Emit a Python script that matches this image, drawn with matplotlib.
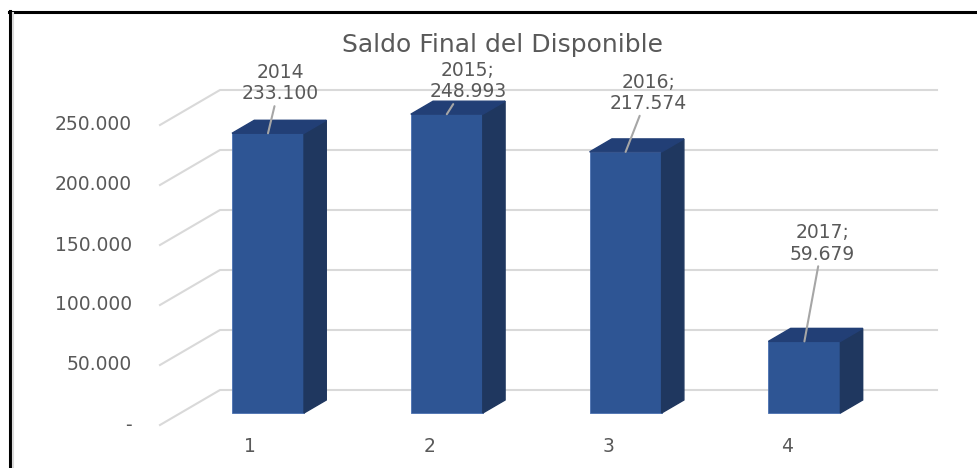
import numpy as np
import matplotlib.pyplot as plt
from matplotlib.lines import Line2D
from matplotlib.patches import Polygon

# datos del grafico
categorias = [1, 2, 3, 4]
saldos = [233100, 248993, 217574, 59679]
etiquetas = ['2014\n233.100', '2015;\n248.993', '2016;\n217.574', '2017;\n59.679']
ticks_y = [0, 50000, 100000, 150000, 200000, 250000]
ticks_txt = ['-', '50.000', '100.000', '150.000', '200.000', '250.000']

# colores estilo Excel
C_FRENTE = '#2E5594'
C_LADO = '#1F375F'
C_TAPA = '#223F76'
C_GRID = '#D9D9D9'
C_TXT = '#595959'

# escala en pixeles (figura 978x468, dpi 100)
PX_CAT = 178.8          # px por categoria
PX_VAL = 0.0012         # px por unidad de valor
DX = 60 / PX_CAT        # profundidad total del piso, en x
DY = 35 / PX_VAL        # profundidad total del piso, en y
Z_FRENTE = 12 / 35      # cara frontal de las barras
Z_FONDO = 25 / 35       # cara trasera de las barras
ANCHO = 72 / PX_CAT
XL = 1 + (160 - 268) / PX_CAT + Z_FRENTE * DX          # esquina frontal izquierda
XR = 1 + (937 - 268) / PX_CAT - (1 - Z_FRENTE) * DX    # extremo derecho del fondo


def proj(x, v, z):
    return x + (z - Z_FRENTE) * DX, v + (z - Z_FRENTE) * DY


fig = plt.figure(figsize=(9.78, 4.68), dpi=100)
ax = fig.add_axes([0, 0, 1, 1])
ax.set_xlim(1 - 268 / PX_CAT, 1 + 710 / PX_CAT)
ax.set_ylim((413 - 468) / PX_VAL, 413 / PX_VAL)
ax.axis('off')

# lineas de cuadricula (pared izquierda y fondo)
for t, txt in zip(ticks_y, ticks_txt):
    pts = [proj(XL, t, 0), proj(XL, t, 1), proj(XR, t, 1)]
    ax.plot([p[0] for p in pts], [p[1] for p in pts], color=C_GRID, lw=1.5, zorder=1)
    ax.annotate(txt, xy=proj(XL, t, 0), xytext=(-28, 0), textcoords='offset pixels',
                ha='right', va='center', fontsize=13.5, color=C_TXT)

# barras 3D
ax.bar(categorias, saldos, width=ANCHO, color=C_FRENTE, edgecolor='#4A70B0', lw=0.6, zorder=3)
for x, v in zip(categorias, saldos):
    xd = x + ANCHO / 2
    xi = x - ANCHO / 2
    lado = [(xd, 0), (xd, v), proj(xd, v, Z_FONDO), proj(xd, 0, Z_FONDO)]
    tapa = [(xi, v), (xd, v), proj(xd, v, Z_FONDO), proj(xi, v, Z_FONDO)]
    ax.add_patch(Polygon(lado, closed=True, color=C_LADO, zorder=3))
    ax.add_patch(Polygon(tapa, closed=True, color=C_TAPA, zorder=3))
    # etiqueta del eje x
    ax.annotate(str(x), xy=proj(x, 0, 0), xytext=(3, -22), textcoords='offset pixels',
                ha='center', va='center', fontsize=13.5, color=C_TXT)

# etiquetas de datos (movidas a mano en el original)
desplaz = [(12, 50), (21, 33), (23, 59), (18, 98)]
for x, v, txt, d in zip(categorias, saldos, etiquetas, desplaz):
    ax.annotate(txt, xy=(x, v), xytext=d, textcoords='offset pixels',
                ha='center', va='center', multialignment='center',
                fontsize=13.5, color=C_TXT, linespacing=1.15, zorder=5,
                arrowprops=dict(arrowstyle='-', color='#A6A6A6', lw=1.5,
                                shrinkA=0, shrinkB=0))

fig.text(503 / 978, 1 - 45 / 468, 'Saldo Final del Disponible', ha='center', va='center',
         fontsize=18, color=C_TXT)

# marco de la captura
fig.add_artist(Line2D([9 / 978, 1], [1 - 11.5 / 468] * 2, color='black', lw=2.2))
fig.add_artist(Line2D([10 / 978] * 2, [0, 1 - 11 / 468], color='black', lw=2.2))
fig.add_artist(Line2D([13.5 / 978] * 2, [0, 1 - 13 / 468], color=C_GRID, lw=1.5))

fig.savefig('out.png', dpi=100)
